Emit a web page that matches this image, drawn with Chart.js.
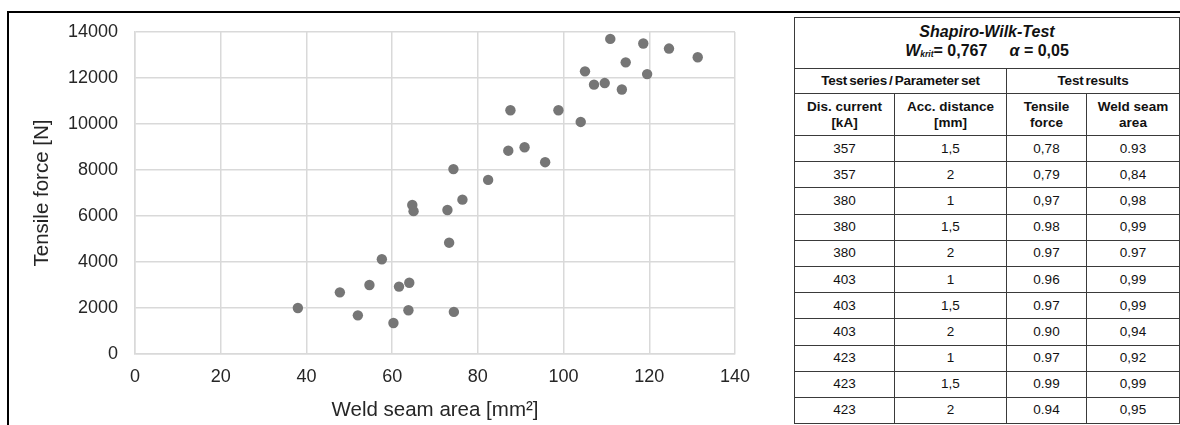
<!DOCTYPE html>
<html>
<head>
<meta charset="utf-8">
<script src="https://cdn.jsdelivr.net/npm/chart.js@4.4.1/dist/chart.umd.min.js"></script>
<style>
  html, body { margin: 0; padding: 0; background: #fff; }
  body { width: 1180px; height: 425px; position: relative; overflow: hidden; font-family: "Liberation Sans", Arial, sans-serif; }
  #frame { position: absolute; left: 7px; top: 11px; width: 1200px; height: 500px; border-top: 2px solid #000; border-left: 2px solid #000; }
  #chartBox { position: absolute; left: 0; top: 0; width: 780px; height: 425px; }
  #tbl { position: absolute; left: 794px; top: 17px; width: 385px; border-collapse: collapse; table-layout: fixed; color: #111; }
  #tbl td { border: 1px solid #3a3a3a; text-align: center; padding: 0; font-size: 13.5px; line-height: 16px; }
  #tbl .ttl { height: 50px; font-size: 16px; font-weight: bold; line-height: 19px; }
  #tbl .h1 { height: 24px; font-weight: bold; font-size: 13.5px; letter-spacing: -0.2px; word-spacing: -1.5px; }
  #tbl .h2 { height: 41px; font-weight: bold; }
  #tbl .d { height: 25.2px; }
  sub { font-size: 8.5px; vertical-align: -1px; }
</style>
</head>
<body>
<div id="frame"></div>
<div id="chartBox"><canvas id="c" width="780" height="425"></canvas></div>
<table id="tbl">
  <colgroup><col style="width:100px"><col style="width:112px"><col style="width:80px"><col style="width:93px"></colgroup>
  <tbody id="tb"></tbody>
</table>
<script>
// ---- Scatter data ----
const weldSeamArea = [38.0, 47.8, 54.7, 52.0, 57.6, 60.3, 61.6, 64.0, 63.8, 74.4, 73.3, 64.7, 65.0, 72.9, 74.3, 76.4, 82.4, 87.1, 90.9, 95.7, 87.6, 98.8, 104.0, 105.0, 107.1, 109.6, 113.6, 110.9, 114.5, 118.6, 119.5, 124.6, 131.3];
const tensileForce = [2000, 2680, 3000, 1680, 4120, 1350, 2930, 3100, 1900, 1830, 4840, 6480, 6210, 6260, 8040, 6710, 7570, 8840, 8990, 8340, 10600, 10600, 10090, 12290, 11710, 11780, 11500, 13700, 12680, 13500, 12170, 13280, 12900];
const xTicks = [0, 20, 40, 60, 80, 100, 120, 140];
const yTicks = [0, 2000, 4000, 6000, 8000, 10000, 12000, 14000];

// ---- Table data ----
const tableTitle = "Shapiro-Wilk-Test";
const wKrit = "0,767";
const alphaVal = "0,05";
const dischargeCurrent = ["357", "357", "380", "380", "380", "403", "403", "403", "423", "423", "423"];
const accDistance = ["1,5", "2", "1", "1,5", "2", "1", "1,5", "2", "1", "1,5", "2"];
const swTensile = ["0,78", "0,79", "0,97", "0.98", "0.97", "0.96", "0.97", "0.90", "0.97", "0.99", "0.94"];
const swWeldArea = ["0.93", "0,84", "0,98", "0,99", "0.97", "0,99", "0,99", "0,94", "0,92", "0,99", "0,95"];

// build table
const tb = document.getElementById('tb');
let html = '';
html += '<tr><td class="ttl" colspan="4"><i>' + tableTitle + '</i><br><i>W</i><sub><i>krit</i></sub>= ' + wKrit + '&nbsp;&nbsp;&nbsp;&nbsp;&nbsp;<i>α</i> = ' + alphaVal + '</td></tr>';
html += '<tr><td class="h1" colspan="2">Test series / Parameter set</td><td class="h1" colspan="2">Test results</td></tr>';
html += '<tr><td class="h2">Dis. current<br>[kA]</td><td class="h2">Acc. distance<br>[mm]</td><td class="h2">Tensile<br>force</td><td class="h2">Weld seam<br>area</td></tr>';
for (let i = 0; i < dischargeCurrent.length; i++) {
  html += '<tr><td class="d">' + dischargeCurrent[i] + '</td><td class="d">' + accDistance[i] + '</td><td class="d">' + swTensile[i] + '</td><td class="d">' + swWeldArea[i] + '</td></tr>';
}
tb.innerHTML = html;

// build chart
const points = weldSeamArea.map((x, i) => ({ x: x, y: tensileForce[i] }));
const fontFam = '"Liberation Sans", Arial, sans-serif';
new Chart(document.getElementById('c'), {
  type: 'scatter',
  data: {
    datasets: [{
      data: points,
      backgroundColor: '#767676',
      borderColor: '#767676',
      borderWidth: 0,
      pointRadius: 5.2,
      pointHoverRadius: 5.2
    }]
  },
  options: {
    responsive: false,
    animation: false,
    devicePixelRatio: 1,
    layout: { padding: { left: 10, right: 45, top: 32, bottom: 2 } },
    plugins: { legend: { display: false }, tooltip: { enabled: false } },
    scales: {
      x: {
        type: 'linear',
        min: 0, max: 140,
        afterBuildTicks: (s) => { s.ticks = xTicks.map(v => ({ value: v })); },
        afterFit: (s) => { s.height = 69; },
        grid: { color: '#d9d9d9', lineWidth: 1.5, drawTicks: false },
        border: { color: '#d9d9d9', width: 1.5 },
        ticks: { font: { family: fontFam, size: 18 }, color: '#262626', padding: 12, maxRotation: 0, callback: (v) => String(v) },
        title: { display: true, text: 'Weld seam area [mm²]', font: { family: fontFam, size: 20.5 }, color: '#262626', padding: { top: 0, bottom: 0 } }
      },
      y: {
        type: 'linear',
        min: 0, max: 14000,
        afterBuildTicks: (s) => { s.ticks = yTicks.map(v => ({ value: v })); },
        afterFit: (s) => { s.width = 125; },
        grid: { color: '#d9d9d9', lineWidth: 1.5, drawTicks: false },
        border: { color: '#d9d9d9', width: 1.5 },
        ticks: { font: { family: fontFam, size: 18 }, color: '#262626', padding: 17, callback: (v) => String(v) },
        title: { display: true, text: 'Tensile force [N]', font: { family: fontFam, size: 20.5 }, color: '#262626', padding: { top: 20, bottom: 0 } }
      }
    }
  }
});
</script>
</body>
</html>
